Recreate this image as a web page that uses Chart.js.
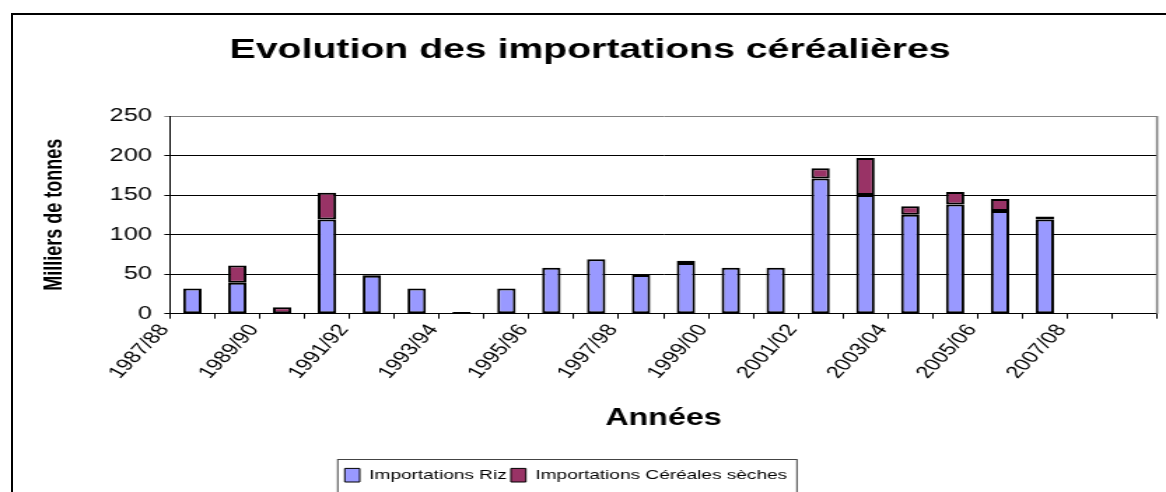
<!DOCTYPE html>
<html>
<head>
<meta charset="utf-8">
<script src="https://cdn.jsdelivr.net/npm/chart.js@4/dist/chart.umd.min.js"></script>
<style>
  html, body { margin: 0; padding: 0; background: #fff; overflow: hidden; }
  #frame { position: absolute; left: 11px; top: 13px; width: 1300px; height: 600px; border: 2px solid #000; pointer-events: none; }
  #chart { position: absolute; left: 0; top: 0; }
</style>
</head>
<body>
<div id="frame"></div>
<canvas id="chart" width="833" height="492" style="width:1166px;height:492px"></canvas>
<script>
// data (milliers de tonnes)
var categories = ["1987/88", "1988/89", "1989/90", "1990/91", "1991/92", "1992/93",
  "1993/94", "1994/95", "1995/96", "1996/97", "1997/98", "1998/99", "1999/00",
  "2000/01", "2001/02", "2002/03", "2003/04", "2004/05", "2005/06", "2006/07",
  "2007/08", "2008/09"];
var riz = [32, 39, 0, 119, 48, 32, 2, 32, 58, 69, 49, 64, 58, 58, 171, 150, 125, 138, 130, 119, null, null];
var cerealesSeches = [0, 22, 8, 34, 1, 0, 0, 0, 0, 0, 0, 3, 0, 0, 13, 47, 11, 16, 15, 4, null, null];
var yTicks = [0, 50, 100, 150, 200, 250];

Chart.defaults.font.family = '"Liberation Sans", Arial, sans-serif';
Chart.defaults.color = '#000';

// the picture is stretched sideways, the canvas is drawn narrow and widened by css
var legendCenter = 404.3;

var framePlugin = {
  id: 'framePlugin',
  afterLayout: function (chart) {
    var lg = chart.legend;
    var shift = legendCenter - (lg.left + lg.right) / 2;
    lg.left += shift;
    lg.right += shift;
  },
  afterDraw: function (chart) {
    var ctx = chart.ctx;
    var a = chart.chartArea;
    ctx.save();
    ctx.strokeStyle = '#808080';
    ctx.lineWidth = 1.6;
    ctx.beginPath();
    ctx.moveTo(a.right, a.top);
    ctx.lineTo(a.right, a.bottom);
    ctx.stroke();
    // box round the legend
    var lg = chart.legend;
    var pad = lg.options.labels.padding;
    var lw = lg.lineWidths[0];
    var x0 = (lg.left + pad + lg.right - lw) / 2;
    var x1 = x0 + lw - pad;
    ctx.strokeStyle = '#444';
    ctx.lineWidth = 1;
    ctx.strokeRect(x0 - 5, 459.5, x1 - x0 + 12, 60);
    ctx.restore();
  }
};

var chart = new Chart(document.getElementById('chart'), {
  type: 'bar',
  data: {
    labels: categories,
    datasets: [
      {
        label: 'Importations Riz',
        data: riz,
        backgroundColor: '#9999FF',
        borderColor: '#000',
        borderWidth: 2,
        borderSkipped: false
      },
      {
        label: 'Importations Céréales sèches',
        data: cerealesSeches,
        backgroundColor: '#993366',
        borderColor: '#000',
        borderWidth: 2,
        borderSkipped: false
      }
    ]
  },
  options: {
    responsive: false,
    devicePixelRatio: 1,
    animation: false,
    layout: { padding: { left: 16.6, right: 6.4, top: 0, bottom: 0 } },
    datasets: { bar: { barPercentage: 0.41, categoryPercentage: 1 } },
    plugins: {
      title: {
        display: true,
        text: 'Evolution des importations céréalières',
        font: { size: 28, weight: 'bold' },
        color: '#000',
        padding: { top: 33.2, bottom: 49.2 }
      },
      legend: {
        position: 'bottom',
        labels: {
          font: { size: 13.6 },
          boxWidth: 10.7,
          boxHeight: 13.6,
          padding: 3,
          color: '#000',
          generateLabels: function (chart) {
            return Chart.defaults.plugins.legend.labels.generateLabels(chart).map(function (l) {
              l.lineWidth = 1;
              return l;
            });
          }
        }
      },
      tooltip: { enabled: false }
    },
    scales: {
      x: {
        stacked: true,
        offset: true,
        grid: { offset: true, drawOnChartArea: false, tickLength: 5, color: '#000' },
        border: { color: '#000', width: 1 },
        ticks: {
          autoSkip: false,
          minRotation: 54.5,
          maxRotation: 54.5,
          padding: 2,
          labelOffset: -20,
          font: { size: 17 },
          color: '#000',
          callback: function (val, i) {
            return i % 2 === 0 ? categories[i] : '';
          }
        },
        title: {
          display: true,
          text: 'Années',
          font: { size: 23, weight: 'bold' },
          color: '#000',
          padding: { top: 0, bottom: 32.9 }
        },
        afterFit: function (scale) { scale.height = 151.7; }
      },
      y: {
        stacked: true,
        min: yTicks[0],
        max: yTicks[yTicks.length - 1],
        afterBuildTicks: function (scale) {
          scale.ticks = yTicks.map(function (v) { return { value: v }; });
        },
        grid: {
          tickLength: 4,
          color: function (c) { return c.tick && c.tick.value === 250 ? '#808080' : '#000'; }
        },
        border: { color: '#000', width: 1 },
        ticks: { font: { size: 18 }, color: '#000', padding: 9 },
        title: {
          display: true,
          text: 'Milliers de tonnes',
          font: { size: 18, weight: 'bold' },
          color: '#000',
          padding: { top: 11.9, bottom: 0 }
        },
        afterFit: function (scale) { scale.width = 104.8; }
      }
    }
  },
  plugins: [framePlugin]
});
chart.canvas.style.width = '1166px';
chart.canvas.style.height = '492px';
</script>
</body>
</html>
